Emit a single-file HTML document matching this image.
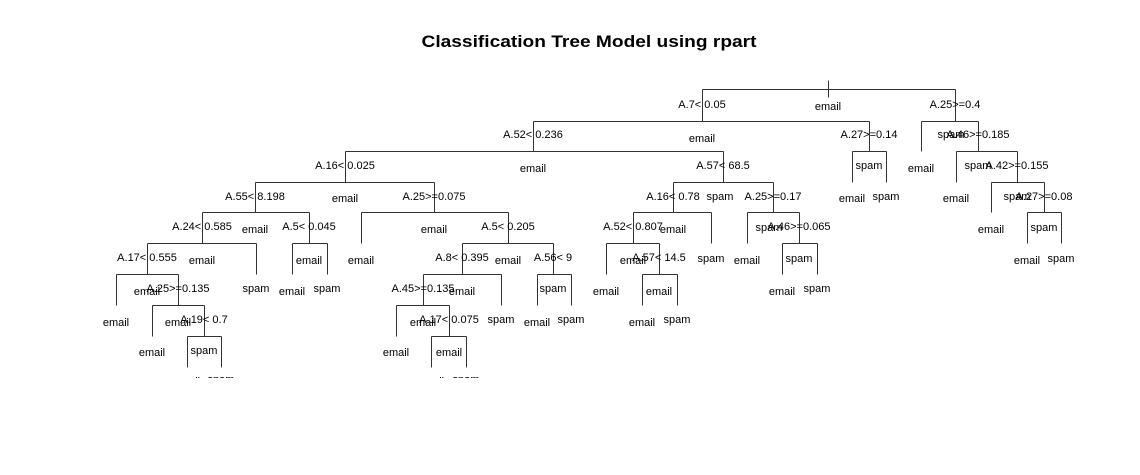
<!DOCTYPE html>
<html><head><meta charset="utf-8"><style>
html,body{margin:0;padding:0;background:#fff;}
svg{display:block;}
text{font-family:"Liberation Sans",sans-serif;font-size:11px;fill:#000;text-anchor:middle;}
</style></head><body>
<svg width="1140" height="475" viewBox="0 0 1140 475" xmlns="http://www.w3.org/2000/svg">
<defs><clipPath id="c"><rect x="0" y="0" width="1140" height="378"/></clipPath></defs>
<text x="589" y="47" style="font-size:17px;font-weight:bold" textLength="335" lengthAdjust="spacingAndGlyphs">Classification Tree Model using rpart</text>
<g clip-path="url(#c)">
<g stroke="#333" stroke-width="1" fill="none" transform="translate(0.5,0.5)">
<path d="M828 80V97"/>
<path d="M702 89H955M702 89V121M955 89V121"/>
<path d="M533 121H869M533 121V151M869 121V151"/>
<path d="M921 121H978M921 121V151M978 121V151"/>
<path d="M345 151H723M345 151V182M723 151V182"/>
<path d="M852 151H886M852 151V182M886 151V182"/>
<path d="M956 151H1017M956 151V182M1017 151V182"/>
<path d="M255 182H434M255 182V212M434 182V212"/>
<path d="M673 182H773M673 182V212M773 182V212"/>
<path d="M991 182H1044M991 182V212M1044 182V212"/>
<path d="M202 212H309M202 212V243M309 212V243"/>
<path d="M361 212H508M361 212V243M508 212V243"/>
<path d="M633 212H711M633 212V243M711 212V243"/>
<path d="M747 212H799M747 212V243M799 212V243"/>
<path d="M1027 212H1061M1027 212V243M1061 212V243"/>
<path d="M147 243H256M147 243V274M256 243V274"/>
<path d="M292 243H327M292 243V274M327 243V274"/>
<path d="M462 243H553M462 243V274M553 243V274"/>
<path d="M606 243H659M606 243V274M659 243V274"/>
<path d="M782 243H817M782 243V274M817 243V274"/>
<path d="M116 274H178M116 274V305M178 274V305"/>
<path d="M423 274H501M423 274V305M501 274V305"/>
<path d="M537 274H571M537 274V305M571 274V305"/>
<path d="M642 274H677M642 274V305M677 274V305"/>
<path d="M152 305H204M152 305V336M204 305V336"/>
<path d="M396 305H449M396 305V336M449 305V336"/>
<path d="M187 336H221M187 336V367M221 336V367"/>
<path d="M431 336H466M431 336V367M466 336V367"/>
</g>
<text x="828" y="110">email</text>
<text x="702" y="108">A.7&lt; 0.05</text><text x="702" y="142">email</text>
<text x="955" y="108">A.25&gt;=0.4</text><text x="951" y="138">spam</text>
<text x="533" y="138">A.52&lt; 0.236</text><text x="533" y="172">email</text>
<text x="869" y="138">A.27&gt;=0.14</text><text x="869" y="169">spam</text>
<text x="921" y="172">email</text>
<text x="978" y="138">A.46&gt;=0.185</text><text x="978" y="169">spam</text>
<text x="345" y="169">A.16&lt; 0.025</text><text x="345" y="202">email</text>
<text x="723" y="169">A.57&lt; 68.5</text><text x="720" y="200">spam</text>
<text x="852" y="202">email</text><text x="886" y="200">spam</text>
<text x="956" y="202">email</text>
<text x="1017" y="169">A.42&gt;=0.155</text><text x="1017" y="200">spam</text>
<text x="255" y="200">A.55&lt; 8.198</text><text x="255" y="233">email</text>
<text x="434" y="200">A.25&gt;=0.075</text><text x="434" y="233">email</text>
<text x="673" y="200">A.16&lt; 0.78</text><text x="673" y="233">email</text>
<text x="773" y="200">A.25&gt;=0.17</text><text x="769" y="231">spam</text>
<text x="991" y="233">email</text>
<text x="1044" y="200">A.27&gt;=0.08</text><text x="1044" y="231">spam</text>
<text x="202" y="230">A.24&lt; 0.585</text><text x="202" y="264">email</text>
<text x="309" y="230">A.5&lt; 0.045</text><text x="309" y="264">email</text>
<text x="361" y="264">email</text>
<text x="508" y="230">A.5&lt; 0.205</text><text x="508" y="264">email</text>
<text x="633" y="230">A.52&lt; 0.807</text><text x="633" y="264">email</text>
<text x="711" y="262">spam</text>
<text x="747" y="264">email</text>
<text x="799" y="230">A.46&gt;=0.065</text><text x="799" y="262">spam</text>
<text x="1027" y="264">email</text><text x="1061" y="262">spam</text>
<text x="147" y="261">A.17&lt; 0.555</text><text x="147" y="295">email</text>
<text x="256" y="292">spam</text>
<text x="292" y="295">email</text><text x="327" y="292">spam</text>
<text x="462" y="261">A.8&lt; 0.395</text><text x="462" y="295">email</text>
<text x="553" y="261">A.56&lt; 9</text><text x="553" y="292">spam</text>
<text x="606" y="295">email</text>
<text x="659" y="261">A.57&lt; 14.5</text><text x="659" y="295">email</text>
<text x="782" y="295">email</text><text x="817" y="292">spam</text>
<text x="116" y="326">email</text>
<text x="178" y="292">A.25&gt;=0.135</text><text x="178" y="326">email</text>
<text x="423" y="292">A.45&gt;=0.135</text><text x="423" y="326">email</text>
<text x="501" y="323">spam</text>
<text x="537" y="326">email</text><text x="571" y="323">spam</text>
<text x="642" y="326">email</text><text x="677" y="323">spam</text>
<text x="152" y="356">email</text>
<text x="204" y="323">A.19&lt; 0.7</text><text x="204" y="354">spam</text>
<text x="396" y="356">email</text>
<text x="449" y="323">A.17&lt; 0.075</text><text x="449" y="356">email</text>
<text x="187" y="385">email</text><text x="221" y="383">spam</text>
<text x="431" y="385">email</text><text x="466" y="383">spam</text>
</g>
</svg>
</body></html>
